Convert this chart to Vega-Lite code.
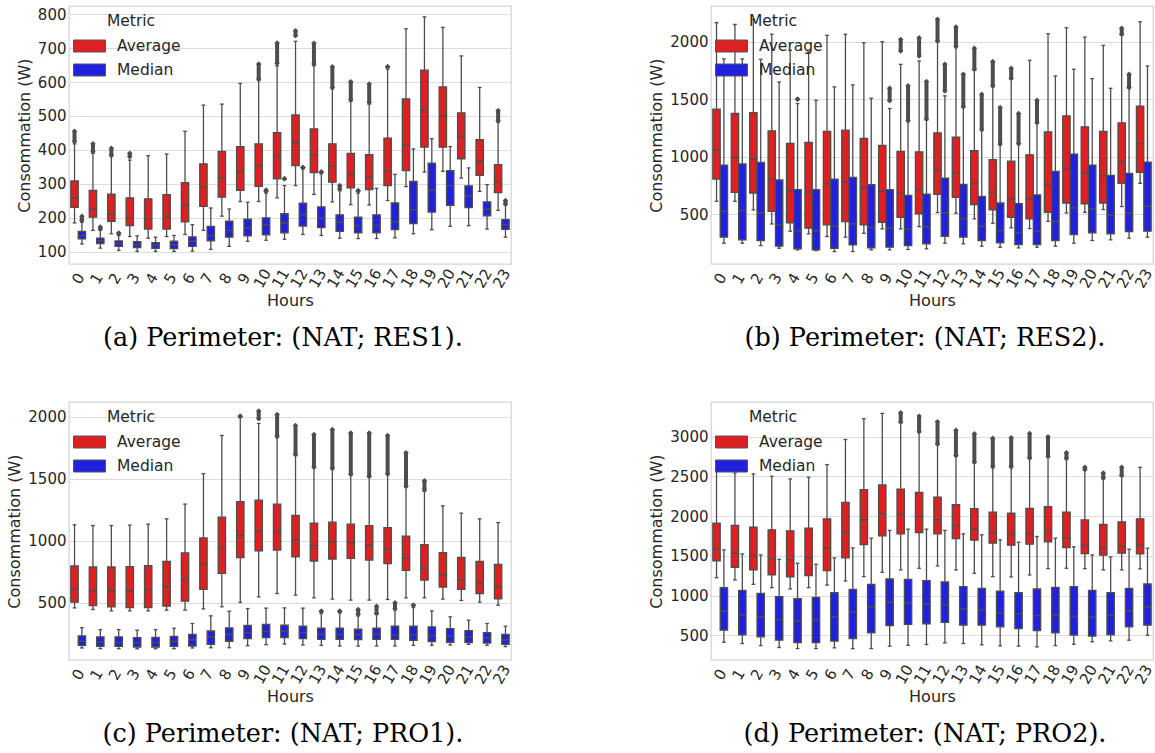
{
"$schema": "https://vega.github.io/schema/vega-lite/v6.json",
"background": "white",
"padding": {"left": 6, "top": 5, "right": 0, "bottom": 0},
"columns": 2,
"spacing": {"row": 48, "column": 134},
"resolve": {"scale": {"color": "independent"}, "legend": {"color": "independent"}},
"config": {
  "font": "DejaVu Sans",
  "axis": {"labelFont": "DejaVu Sans", "titleFont": "DejaVu Sans", "labelColor": "#262626", "titleColor": "#262626", "titleFontWeight": "normal", "labelFontSize": 15, "titleFontSize": 16, "ticks": false, "domain": false, "gridColor": "#dcdcdc", "gridWidth": 1.2, "labelOverlap": false},
  "axisX": {"grid": false, "labelAngle": -60, "labelAlign": "center", "labelBaseline": "middle", "labelPadding": 14, "titlePadding": 2},
  "axisY": {"grid": true, "labelPadding": 3, "titlePadding": 5, "format": "d", "labelOverlap": false, "labelBound": false, "labelFlush": false, "labelSeparation": -30},
  "view": {"stroke": "#d6d6d6", "strokeWidth": 1.3},
  "title": {"font": "DejaVu Serif", "fontSize": 25.5, "fontWeight": "normal", "color": "#000000", "orient": "bottom", "anchor": "middle", "frame": "group", "offset": 18, "dx": -7},
  "legend": {"title": "Metric", "orient": "none", "legendX": 12, "legendY": 8, "symbolType": "M-2,-0.75H2V0.75H-2Z", "symbolSize": 256, "symbolStrokeColor": "#555555", "symbolStrokeWidth": 1, "symbolOpacity": 1, "labelOffset": 19, "labelFontSize": 15.5, "titleFontSize": 15.5, "titleFontWeight": "normal", "titleAnchor": "middle", "rowPadding": 7, "titlePadding": 8, "labelColor": "#262626", "titleColor": "#262626"}
},
"datasets": {
"a": [
{"h":0,"m":"Average","lo":185,"q1":231,"md":259,"q3":309,"hi":418,"ol":425,"oh":455},
{"h":0,"m":"Median","lo":123,"q1":138,"md":148,"q3":160,"hi":187,"ol":192,"oh":205},
{"h":1,"m":"Average","lo":163,"q1":202,"md":227,"q3":281,"hi":390,"ol":395,"oh":418},
{"h":1,"m":"Median","lo":111,"q1":124,"md":132,"q3":140,"hi":163,"ol":167,"oh":173},
{"h":2,"m":"Average","lo":153,"q1":190,"md":212,"q3":270,"hi":380,"ol":385,"oh":405},
{"h":2,"m":"Median","lo":104,"q1":116,"md":124,"q3":132,"hi":148,"ol":153,"oh":155},
{"h":3,"m":"Average","lo":145,"q1":177,"md":201,"q3":259,"hi":370,"ol":380,"oh":390},
{"h":3,"m":"Median","lo":101,"q1":112,"md":121,"q3":130,"hi":147},
{"h":4,"m":"Average","lo":140,"q1":167,"md":196,"q3":256,"hi":383},
{"h":4,"m":"Median","lo":101,"q1":110,"md":119,"q3":127,"hi":143},
{"h":5,"m":"Average","lo":145,"q1":167,"md":202,"q3":268,"hi":388},
{"h":5,"m":"Median","lo":101,"q1":109,"md":121,"q3":131,"hi":148},
{"h":6,"m":"Average","lo":151,"q1":188,"md":236,"q3":304,"hi":455},
{"h":6,"m":"Median","lo":102,"q1":116,"md":131,"q3":144,"hi":180},
{"h":7,"m":"Average","lo":163,"q1":234,"md":290,"q3":359,"hi":532},
{"h":7,"m":"Median","lo":107,"q1":132,"md":148,"q3":175,"hi":229},
{"h":8,"m":"Average","lo":205,"q1":261,"md":318,"q3":396,"hi":535},
{"h":8,"m":"Median","lo":116,"q1":143,"md":163,"q3":190,"hi":226},
{"h":9,"m":"Average","lo":248,"q1":281,"md":337,"q3":410,"hi":596},
{"h":9,"m":"Median","lo":131,"q1":147,"md":171,"q3":196,"hi":246},
{"h":10,"m":"Average","lo":248,"q1":293,"md":354,"q3":418,"hi":604,"ol":609,"oh":653},
{"h":10,"m":"Median","lo":134,"q1":150,"md":180,"q3":200,"hi":273,"ol":278,"oh":282},
{"h":11,"m":"Average","lo":259,"q1":315,"md":381,"q3":451,"hi":648,"ol":655,"oh":715},
{"h":11,"m":"Median","lo":137,"q1":156,"md":185,"q3":212,"hi":295,"ol":315,"oh":315},
{"h":12,"m":"Average","lo":295,"q1":354,"md":420,"q3":503,"hi":720,"ol":736,"oh":751},
{"h":12,"m":"Median","lo":151,"q1":176,"md":210,"q3":243,"hi":344,"ol":348,"oh":348},
{"h":13,"m":"Average","lo":269,"q1":333,"md":386,"q3":462,"hi":648,"ol":653,"oh":714},
{"h":13,"m":"Median","lo":148,"q1":171,"md":200,"q3":232,"hi":330,"ol":335,"oh":335},
{"h":14,"m":"Average","lo":247,"q1":305,"md":352,"q3":418,"hi":580,"ol":584,"oh":645},
{"h":14,"m":"Median","lo":140,"q1":160,"md":187,"q3":209,"hi":280,"ol":285,"oh":295},
{"h":15,"m":"Average","lo":239,"q1":288,"md":328,"q3":390,"hi":543,"ol":548,"oh":601},
{"h":15,"m":"Median","lo":139,"q1":156,"md":177,"q3":202,"hi":273,"ol":280,"oh":280},
{"h":16,"m":"Average","lo":238,"q1":283,"md":320,"q3":386,"hi":535,"ol":540,"oh":594},
{"h":16,"m":"Median","lo":139,"q1":156,"md":177,"q3":209,"hi":287},
{"h":17,"m":"Average","lo":251,"q1":295,"md":337,"q3":435,"hi":638,"ol":645,"oh":645},
{"h":17,"m":"Median","lo":141,"q1":165,"md":188,"q3":244,"hi":328},
{"h":18,"m":"Average","lo":292,"q1":339,"md":416,"q3":550,"hi":757},
{"h":18,"m":"Median","lo":153,"q1":183,"md":224,"q3":307,"hi":403},
{"h":19,"m":"Average","lo":335,"q1":408,"md":518,"q3":635,"hi":792},
{"h":19,"m":"Median","lo":165,"q1":217,"md":281,"q3":361,"hi":433},
{"h":20,"m":"Average","lo":337,"q1":408,"md":501,"q3":586,"hi":761},
{"h":20,"m":"Median","lo":175,"q1":237,"md":295,"q3":339,"hi":410},
{"h":21,"m":"Average","lo":317,"q1":374,"md":439,"q3":509,"hi":677},
{"h":21,"m":"Median","lo":177,"q1":230,"md":264,"q3":294,"hi":347},
{"h":22,"m":"Average","lo":278,"q1":325,"md":367,"q3":430,"hi":584},
{"h":22,"m":"Median","lo":167,"q1":206,"md":225,"q3":247,"hi":298},
{"h":23,"m":"Average","lo":222,"q1":274,"md":305,"q3":357,"hi":481,"ol":486,"oh":516},
{"h":23,"m":"Median","lo":143,"q1":166,"md":180,"q3":195,"hi":237,"ol":241,"oh":251}
],
"b": [
{"h":0,"m":"Average","lo":613,"q1":806,"md":1061,"q3":1413,"hi":2165},
{"h":0,"m":"Median","lo":249,"q1":301,"md":526,"q3":928,"hi":1850},
{"h":1,"m":"Average","lo":613,"q1":691,"md":1000,"q3":1376,"hi":2150},
{"h":1,"m":"Median","lo":249,"q1":278,"md":532,"q3":937,"hi":1850},
{"h":2,"m":"Average","lo":538,"q1":685,"md":980,"q3":1384,"hi":2194},
{"h":2,"m":"Median","lo":228,"q1":272,"md":512,"q3":951,"hi":1847},
{"h":3,"m":"Average","lo":416,"q1":526,"md":806,"q3":1225,"hi":2064},
{"h":3,"m":"Median","lo":205,"q1":223,"md":408,"q3":798,"hi":1650},
{"h":4,"m":"Average","lo":353,"q1":425,"md":705,"q3":1116,"hi":1925},
{"h":4,"m":"Median","lo":191,"q1":200,"md":358,"q3":714,"hi":1462,"ol":1500,"oh":1500},
{"h":5,"m":"Average","lo":330,"q1":379,"md":691,"q3":1124,"hi":1910},
{"h":5,"m":"Median","lo":185,"q1":192,"md":358,"q3":714,"hi":1491},
{"h":6,"m":"Average","lo":307,"q1":408,"md":763,"q3":1220,"hi":2055},
{"h":6,"m":"Median","lo":176,"q1":205,"md":396,"q3":806,"hi":1607},
{"h":7,"m":"Average","lo":301,"q1":437,"md":783,"q3":1231,"hi":2064},
{"h":7,"m":"Median","lo":176,"q1":234,"md":416,"q3":821,"hi":1624},
{"h":8,"m":"Average","lo":335,"q1":408,"md":728,"q3":1159,"hi":1991},
{"h":8,"m":"Median","lo":191,"q1":208,"md":387,"q3":757,"hi":1509},
{"h":9,"m":"Average","lo":373,"q1":431,"md":702,"q3":1098,"hi":2000},
{"h":9,"m":"Median","lo":191,"q1":214,"md":379,"q3":714,"hi":1419,"ol":1486,"oh":1595},
{"h":10,"m":"Average","lo":373,"q1":474,"md":691,"q3":1046,"hi":1803,"ol":1919,"oh":2020},
{"h":10,"m":"Median","lo":194,"q1":228,"md":373,"q3":665,"hi":1306,"ol":1312,"oh":1616},
{"h":11,"m":"Average","lo":393,"q1":503,"md":714,"q3":1043,"hi":1832,"ol":1876,"oh":2035},
{"h":11,"m":"Median","lo":200,"q1":243,"md":393,"q3":676,"hi":1318,"ol":1327,"oh":1653},
{"h":12,"m":"Average","lo":515,"q1":673,"md":884,"q3":1208,"hi":2000,"ol":2006,"oh":2194},
{"h":12,"m":"Median","lo":249,"q1":309,"md":512,"q3":815,"hi":1529,"ol":1572,"oh":1803},
{"h":13,"m":"Average","lo":509,"q1":647,"md":858,"q3":1171,"hi":1948,"ol":1962,"oh":2127},
{"h":13,"m":"Median","lo":243,"q1":301,"md":460,"q3":760,"hi":1428,"ol":1434,"oh":1717},
{"h":14,"m":"Average","lo":460,"q1":584,"md":766,"q3":1052,"hi":1751,"ol":1760,"oh":1942},
{"h":14,"m":"Median","lo":223,"q1":272,"md":396,"q3":656,"hi":1225,"ol":1240,"oh":1543},
{"h":15,"m":"Average","lo":422,"q1":538,"md":691,"q3":974,"hi":1607,"ol":1616,"oh":1827},
{"h":15,"m":"Median","lo":214,"q1":252,"md":358,"q3":598,"hi":1104,"ol":1110,"oh":1428},
{"h":16,"m":"Average","lo":382,"q1":474,"md":630,"q3":962,"hi":1673,"ol":1682,"oh":1769},
{"h":16,"m":"Median","lo":208,"q1":237,"md":338,"q3":593,"hi":1104,"ol":1116,"oh":1376},
{"h":17,"m":"Average","lo":376,"q1":460,"md":630,"q3":1017,"hi":1838},
{"h":17,"m":"Median","lo":214,"q1":237,"md":353,"q3":668,"hi":1289,"ol":1298,"oh":1491},
{"h":18,"m":"Average","lo":439,"q1":517,"md":757,"q3":1217,"hi":2069},
{"h":18,"m":"Median","lo":223,"q1":272,"md":437,"q3":873,"hi":1702},
{"h":19,"m":"Average","lo":512,"q1":598,"md":893,"q3":1356,"hi":2121},
{"h":19,"m":"Median","lo":249,"q1":324,"md":555,"q3":1023,"hi":1760},
{"h":20,"m":"Average","lo":517,"q1":590,"md":858,"q3":1260,"hi":2040},
{"h":20,"m":"Median","lo":272,"q1":338,"md":546,"q3":928,"hi":1679},
{"h":21,"m":"Average","lo":541,"q1":598,"md":835,"q3":1220,"hi":1968},
{"h":21,"m":"Median","lo":278,"q1":330,"md":494,"q3":838,"hi":1595},
{"h":22,"m":"Average","lo":567,"q1":769,"md":954,"q3":1295,"hi":2058,"ol":2064,"oh":2116},
{"h":22,"m":"Median","lo":292,"q1":350,"md":512,"q3":856,"hi":1595,"ol":1601,"oh":1717},
{"h":23,"m":"Average","lo":769,"q1":864,"md":1113,"q3":1439,"hi":2173},
{"h":23,"m":"Median","lo":301,"q1":353,"md":569,"q3":954,"hi":1789}
],
"c": [
{"h":0,"m":"Average","lo":459,"q1":505,"md":611,"q3":797,"hi":1129},
{"h":0,"m":"Median","lo":136,"q1":157,"md":190,"q3":233,"hi":300},
{"h":1,"m":"Average","lo":446,"q1":478,"md":594,"q3":789,"hi":1123},
{"h":1,"m":"Median","lo":130,"q1":149,"md":184,"q3":225,"hi":284},
{"h":2,"m":"Average","lo":435,"q1":468,"md":594,"q3":789,"hi":1123},
{"h":2,"m":"Median","lo":130,"q1":149,"md":179,"q3":225,"hi":284},
{"h":3,"m":"Average","lo":435,"q1":462,"md":594,"q3":791,"hi":1126},
{"h":3,"m":"Median","lo":130,"q1":144,"md":176,"q3":219,"hi":279},
{"h":4,"m":"Average","lo":435,"q1":462,"md":608,"q3":799,"hi":1134},
{"h":4,"m":"Median","lo":130,"q1":144,"md":179,"q3":222,"hi":284},
{"h":5,"m":"Average","lo":441,"q1":473,"md":629,"q3":834,"hi":1177},
{"h":5,"m":"Median","lo":130,"q1":149,"md":190,"q3":230,"hi":295},
{"h":6,"m":"Average","lo":441,"q1":513,"md":691,"q3":902,"hi":1296},
{"h":6,"m":"Median","lo":136,"q1":152,"md":203,"q3":246,"hi":333},
{"h":7,"m":"Average","lo":451,"q1":608,"md":810,"q3":1023,"hi":1541},
{"h":7,"m":"Median","lo":138,"q1":165,"md":225,"q3":273,"hi":395},
{"h":8,"m":"Average","lo":468,"q1":737,"md":940,"q3":1191,"hi":1849},
{"h":8,"m":"Median","lo":138,"q1":190,"md":244,"q3":298,"hi":432},
{"h":9,"m":"Average","lo":503,"q1":864,"md":1045,"q3":1315,"hi":1992,"ol":2005,"oh":2005},
{"h":9,"m":"Median","lo":155,"q1":211,"md":260,"q3":317,"hi":454},
{"h":10,"m":"Average","lo":548,"q1":918,"md":1080,"q3":1328,"hi":1946,"ol":1984,"oh":2046},
{"h":10,"m":"Median","lo":163,"q1":219,"md":268,"q3":327,"hi":457},
{"h":11,"m":"Average","lo":575,"q1":926,"md":1075,"q3":1296,"hi":1830,"ol":1844,"oh":2019},
{"h":11,"m":"Median","lo":168,"q1":219,"md":273,"q3":319,"hi":459},
{"h":12,"m":"Average","lo":562,"q1":870,"md":1007,"q3":1204,"hi":1687,"ol":1695,"oh":1930},
{"h":12,"m":"Median","lo":160,"q1":211,"md":260,"q3":311,"hi":457},
{"h":13,"m":"Average","lo":540,"q1":837,"md":961,"q3":1142,"hi":1587,"ol":1595,"oh":1857},
{"h":13,"m":"Median","lo":157,"q1":206,"md":249,"q3":295,"hi":414,"ol":432,"oh":432},
{"h":14,"m":"Average","lo":530,"q1":853,"md":991,"q3":1150,"hi":1574,"ol":1587,"oh":1897},
{"h":14,"m":"Median","lo":152,"q1":206,"md":244,"q3":295,"hi":419,"ol":432,"oh":432},
{"h":15,"m":"Average","lo":522,"q1":859,"md":986,"q3":1134,"hi":1528,"ol":1539,"oh":1870},
{"h":15,"m":"Median","lo":152,"q1":203,"md":244,"q3":287,"hi":395,"ol":408,"oh":446},
{"h":16,"m":"Average","lo":522,"q1":845,"md":967,"q3":1123,"hi":1512,"ol":1520,"oh":1870},
{"h":16,"m":"Median","lo":152,"q1":206,"md":246,"q3":295,"hi":408,"ol":414,"oh":473},
{"h":17,"m":"Average","lo":527,"q1":816,"md":934,"q3":1107,"hi":1531,"ol":1541,"oh":1849},
{"h":17,"m":"Median","lo":152,"q1":206,"md":238,"q3":311,"hi":441,"ol":454,"oh":500},
{"h":18,"m":"Average","lo":540,"q1":762,"md":859,"q3":1037,"hi":1433,"ol":1439,"oh":1709},
{"h":18,"m":"Median","lo":157,"q1":198,"md":241,"q3":311,"hi":462,"ol":481,"oh":481},
{"h":19,"m":"Average","lo":540,"q1":683,"md":778,"q3":969,"hi":1398,"ol":1412,"oh":1485},
{"h":19,"m":"Median","lo":157,"q1":187,"md":236,"q3":306,"hi":435},
{"h":20,"m":"Average","lo":530,"q1":627,"md":724,"q3":905,"hi":1282},
{"h":20,"m":"Median","lo":160,"q1":182,"md":230,"q3":292,"hi":387},
{"h":21,"m":"Average","lo":519,"q1":608,"md":683,"q3":867,"hi":1223},
{"h":21,"m":"Median","lo":165,"q1":179,"md":225,"q3":276,"hi":360},
{"h":22,"m":"Average","lo":505,"q1":575,"md":656,"q3":834,"hi":1177},
{"h":22,"m":"Median","lo":157,"q1":176,"md":219,"q3":260,"hi":333},
{"h":23,"m":"Average","lo":481,"q1":532,"md":629,"q3":810,"hi":1147},
{"h":23,"m":"Median","lo":147,"q1":165,"md":203,"q3":246,"hi":311}
],
"d": [
{"h":0,"m":"Average","lo":1225,"q1":1436,"md":1583,"q3":1912,"hi":2595},
{"h":0,"m":"Median","lo":411,"q1":563,"md":803,"q3":1099,"hi":1575},
{"h":1,"m":"Average","lo":1196,"q1":1356,"md":1533,"q3":1883,"hi":2545},
{"h":1,"m":"Median","lo":395,"q1":504,"md":753,"q3":1065,"hi":1524},
{"h":2,"m":"Average","lo":1141,"q1":1322,"md":1503,"q3":1862,"hi":2532},
{"h":2,"m":"Median","lo":369,"q1":479,"md":732,"q3":1027,"hi":1512},
{"h":3,"m":"Average","lo":1099,"q1":1259,"md":1461,"q3":1828,"hi":2503},
{"h":3,"m":"Median","lo":344,"q1":437,"md":698,"q3":985,"hi":1457},
{"h":4,"m":"Average","lo":1082,"q1":1234,"md":1449,"q3":1815,"hi":2469},
{"h":4,"m":"Median","lo":331,"q1":407,"md":677,"q3":959,"hi":1406},
{"h":5,"m":"Average","lo":1099,"q1":1250,"md":1478,"q3":1849,"hi":2490},
{"h":5,"m":"Median","lo":331,"q1":407,"md":690,"q3":976,"hi":1394},
{"h":6,"m":"Average","lo":1132,"q1":1314,"md":1596,"q3":1967,"hi":2650},
{"h":6,"m":"Median","lo":340,"q1":424,"md":732,"q3":1035,"hi":1474},
{"h":7,"m":"Average","lo":1183,"q1":1474,"md":1794,"q3":2174,"hi":2966},
{"h":7,"m":"Median","lo":331,"q1":458,"md":795,"q3":1078,"hi":1600},
{"h":8,"m":"Average","lo":1238,"q1":1642,"md":1954,"q3":2334,"hi":3228},
{"h":8,"m":"Median","lo":331,"q1":530,"md":858,"q3":1141,"hi":1723},
{"h":9,"m":"Average","lo":1293,"q1":1752,"md":2030,"q3":2393,"hi":3295},
{"h":9,"m":"Median","lo":361,"q1":622,"md":913,"q3":1208,"hi":1820},
{"h":10,"m":"Average","lo":1322,"q1":1777,"md":2026,"q3":2342,"hi":3177,"ol":3186,"oh":3304},
{"h":10,"m":"Median","lo":373,"q1":635,"md":909,"q3":1204,"hi":1836},
{"h":11,"m":"Average","lo":1343,"q1":1794,"md":1997,"q3":2300,"hi":3059,"ol":3065,"oh":3261},
{"h":11,"m":"Median","lo":382,"q1":643,"md":892,"q3":1187,"hi":1836},
{"h":12,"m":"Average","lo":1373,"q1":1777,"md":1954,"q3":2241,"hi":2903,"ol":2911,"oh":3190},
{"h":12,"m":"Median","lo":403,"q1":660,"md":884,"q3":1170,"hi":1820},
{"h":13,"m":"Average","lo":1322,"q1":1718,"md":1883,"q3":2144,"hi":2755,"ol":2764,"oh":3084},
{"h":13,"m":"Median","lo":395,"q1":626,"md":833,"q3":1111,"hi":1777},
{"h":14,"m":"Average","lo":1280,"q1":1697,"md":1841,"q3":2094,"hi":2671,"ol":2684,"oh":3038},
{"h":14,"m":"Median","lo":378,"q1":626,"md":816,"q3":1090,"hi":1765},
{"h":15,"m":"Average","lo":1238,"q1":1659,"md":1794,"q3":2051,"hi":2608,"ol":2629,"oh":2983},
{"h":15,"m":"Median","lo":365,"q1":605,"md":778,"q3":1056,"hi":1701},
{"h":16,"m":"Average","lo":1234,"q1":1634,"md":1769,"q3":2039,"hi":2608,"ol":2629,"oh":2987},
{"h":16,"m":"Median","lo":361,"q1":584,"md":766,"q3":1035,"hi":1672},
{"h":17,"m":"Average","lo":1259,"q1":1647,"md":1777,"q3":2098,"hi":2726,"ol":2734,"oh":3042},
{"h":17,"m":"Median","lo":352,"q1":559,"md":745,"q3":1082,"hi":1744},
{"h":18,"m":"Average","lo":1339,"q1":1676,"md":1807,"q3":2119,"hi":2747,"ol":2755,"oh":3000},
{"h":18,"m":"Median","lo":369,"q1":530,"md":753,"q3":1103,"hi":1723},
{"h":19,"m":"Average","lo":1343,"q1":1605,"md":1723,"q3":2051,"hi":2713,"ol":2734,"oh":2798},
{"h":19,"m":"Median","lo":386,"q1":500,"md":740,"q3":1111,"hi":1613},
{"h":20,"m":"Average","lo":1339,"q1":1529,"md":1630,"q3":1954,"hi":2578,"ol":2587,"oh":2616},
{"h":20,"m":"Median","lo":416,"q1":487,"md":728,"q3":1065,"hi":1512},
{"h":21,"m":"Average","lo":1322,"q1":1508,"md":1596,"q3":1895,"hi":2469,"ol":2481,"oh":2545},
{"h":21,"m":"Median","lo":428,"q1":504,"md":749,"q3":1035,"hi":1486},
{"h":22,"m":"Average","lo":1322,"q1":1533,"md":1617,"q3":1929,"hi":2503,"ol":2511,"oh":2616},
{"h":22,"m":"Median","lo":437,"q1":605,"md":808,"q3":1090,"hi":1583},
{"h":23,"m":"Average","lo":1335,"q1":1524,"md":1634,"q3":1967,"hi":2616},
{"h":23,"m":"Median","lo":500,"q1":626,"md":858,"q3":1145,"hi":1596}
]
},
"concat": [
{
 "width": 442, "height": 258,
 "data": {"name": "a"},
 "title": {"text": "(a) Perimeter: (NAT; RES1)."},
 "encoding": {
  "x": {"field": "h", "type": "ordinal", "title": "Hours", "scale": {"paddingInner": 0, "paddingOuter": 0}},
  "xOffset": {"field": "m", "type": "nominal", "scale": {"paddingInner": 0, "paddingOuter": 0.25}}
 },
 "layer": [
  {"mark": {"type": "rule", "color": "#4d4d4d", "strokeWidth": 1.3}, "encoding": {"y": {"field": "lo", "type": "quantitative", "title": "Consommation (W)", "scale": {"domain": [64, 824], "nice": false, "zero": false}, "axis": {"values": [100,200,300,400,500,600,700,800], "labelOverlap": false, "labelSeparation": -30, "tickCount": 8}}, "y2": {"field": "hi"}}},
  {"mark": {"type": "tick", "color": "#4d4d4d", "size": 3.7, "thickness": 1.3, "opacity": 1}, "encoding": {"y": {"field": "lo", "type": "quantitative"}}},
  {"mark": {"type": "tick", "color": "#4d4d4d", "size": 3.7, "thickness": 1.3, "opacity": 1}, "encoding": {"y": {"field": "hi", "type": "quantitative"}}},
  {"mark": {"type": "bar", "stroke": "#4d4d4d", "strokeWidth": 1.3, "opacity": 1}, "encoding": {"y": {"field": "q1", "type": "quantitative"}, "y2": {"field": "q3"}, "color": {"field": "m", "type": "nominal", "scale": {"domain": ["Average", "Median"], "range": ["#df2020", "#2020df"]}, "legend": {"title": "Metric"}}}},
  {"mark": {"type": "tick", "color": "#4d4d4d", "size": 7.2, "thickness": 1.5, "opacity": 1}, "encoding": {"y": {"field": "md", "type": "quantitative"}}},
  {"transform": [{"filter": "isValid(datum.ol)"}], "mark": {"type": "rule", "color": "#4d4d4d", "strokeWidth": 4}, "encoding": {"y": {"field": "ol", "type": "quantitative"}, "y2": {"field": "oh"}}},
  {"transform": [{"filter": "isValid(datum.ol)"}], "mark": {"type": "point", "shape": "diamond", "filled": true, "size": 30, "color": "#4d4d4d", "opacity": 1}, "encoding": {"y": {"field": "oh", "type": "quantitative"}}},
  {"transform": [{"filter": "isValid(datum.ol)"}], "mark": {"type": "point", "shape": "diamond", "filled": true, "size": 30, "color": "#4d4d4d", "opacity": 1}, "encoding": {"y": {"field": "ol", "type": "quantitative"}}}
 ]
},
{
 "width": 442, "height": 258,
 "data": {"name": "b"},
 "title": {"text": "(b) Perimeter: (NAT; RES2)."},
 "encoding": {
  "x": {"field": "h", "type": "ordinal", "title": "Hours", "scale": {"paddingInner": 0, "paddingOuter": 0}},
  "xOffset": {"field": "m", "type": "nominal", "scale": {"paddingInner": 0, "paddingOuter": 0.25}}
 },
 "layer": [
  {"mark": {"type": "rule", "color": "#4d4d4d", "strokeWidth": 1.3}, "encoding": {"y": {"field": "lo", "type": "quantitative", "title": "Consommation (W)", "scale": {"domain": [68, 2310], "nice": false, "zero": false}, "axis": {"values": [500,1000,1500,2000], "labelOverlap": false}}, "y2": {"field": "hi"}}},
  {"mark": {"type": "tick", "color": "#4d4d4d", "size": 3.7, "thickness": 1.3, "opacity": 1}, "encoding": {"y": {"field": "lo", "type": "quantitative"}}},
  {"mark": {"type": "tick", "color": "#4d4d4d", "size": 3.7, "thickness": 1.3, "opacity": 1}, "encoding": {"y": {"field": "hi", "type": "quantitative"}}},
  {"mark": {"type": "bar", "stroke": "#4d4d4d", "strokeWidth": 1.3, "opacity": 1}, "encoding": {"y": {"field": "q1", "type": "quantitative"}, "y2": {"field": "q3"}, "color": {"field": "m", "type": "nominal", "scale": {"domain": ["Average", "Median"], "range": ["#df2020", "#2020df"]}, "legend": {"title": "Metric"}}}},
  {"mark": {"type": "tick", "color": "#4d4d4d", "size": 7.2, "thickness": 1.5, "opacity": 1}, "encoding": {"y": {"field": "md", "type": "quantitative"}}},
  {"transform": [{"filter": "isValid(datum.ol)"}], "mark": {"type": "rule", "color": "#4d4d4d", "strokeWidth": 4}, "encoding": {"y": {"field": "ol", "type": "quantitative"}, "y2": {"field": "oh"}}},
  {"transform": [{"filter": "isValid(datum.ol)"}], "mark": {"type": "point", "shape": "diamond", "filled": true, "size": 30, "color": "#4d4d4d", "opacity": 1}, "encoding": {"y": {"field": "oh", "type": "quantitative"}}},
  {"transform": [{"filter": "isValid(datum.ol)"}], "mark": {"type": "point", "shape": "diamond", "filled": true, "size": 30, "color": "#4d4d4d", "opacity": 1}, "encoding": {"y": {"field": "ol", "type": "quantitative"}}}
 ]
},
{
 "width": 442, "height": 258,
 "data": {"name": "c"},
 "title": {"text": "(c) Perimeter: (NAT; PRO1)."},
 "encoding": {
  "x": {"field": "h", "type": "ordinal", "title": "Hours", "scale": {"paddingInner": 0, "paddingOuter": 0}},
  "xOffset": {"field": "m", "type": "nominal", "scale": {"paddingInner": 0, "paddingOuter": 0.25}}
 },
 "layer": [
  {"mark": {"type": "rule", "color": "#4d4d4d", "strokeWidth": 1.3}, "encoding": {"y": {"field": "lo", "type": "quantitative", "title": "Consommation (W)", "scale": {"domain": [39, 2119], "nice": false, "zero": false}, "axis": {"values": [500,1000,1500,2000], "labelOverlap": false}}, "y2": {"field": "hi"}}},
  {"mark": {"type": "tick", "color": "#4d4d4d", "size": 3.7, "thickness": 1.3, "opacity": 1}, "encoding": {"y": {"field": "lo", "type": "quantitative"}}},
  {"mark": {"type": "tick", "color": "#4d4d4d", "size": 3.7, "thickness": 1.3, "opacity": 1}, "encoding": {"y": {"field": "hi", "type": "quantitative"}}},
  {"mark": {"type": "bar", "stroke": "#4d4d4d", "strokeWidth": 1.3, "opacity": 1}, "encoding": {"y": {"field": "q1", "type": "quantitative"}, "y2": {"field": "q3"}, "color": {"field": "m", "type": "nominal", "scale": {"domain": ["Average", "Median"], "range": ["#df2020", "#2020df"]}, "legend": {"title": "Metric"}}}},
  {"mark": {"type": "tick", "color": "#4d4d4d", "size": 7.2, "thickness": 1.5, "opacity": 1}, "encoding": {"y": {"field": "md", "type": "quantitative"}}},
  {"transform": [{"filter": "isValid(datum.ol)"}], "mark": {"type": "rule", "color": "#4d4d4d", "strokeWidth": 4}, "encoding": {"y": {"field": "ol", "type": "quantitative"}, "y2": {"field": "oh"}}},
  {"transform": [{"filter": "isValid(datum.ol)"}], "mark": {"type": "point", "shape": "diamond", "filled": true, "size": 30, "color": "#4d4d4d", "opacity": 1}, "encoding": {"y": {"field": "oh", "type": "quantitative"}}},
  {"transform": [{"filter": "isValid(datum.ol)"}], "mark": {"type": "point", "shape": "diamond", "filled": true, "size": 30, "color": "#4d4d4d", "opacity": 1}, "encoding": {"y": {"field": "ol", "type": "quantitative"}}}
 ]
},
{
 "width": 442, "height": 258,
 "data": {"name": "d"},
 "title": {"text": "(d) Perimeter: (NAT; PRO2)."},
 "encoding": {
  "x": {"field": "h", "type": "ordinal", "title": "Hours", "scale": {"paddingInner": 0, "paddingOuter": 0}},
  "xOffset": {"field": "m", "type": "nominal", "scale": {"paddingInner": 0, "paddingOuter": 0.25}}
 },
 "layer": [
  {"mark": {"type": "rule", "color": "#4d4d4d", "strokeWidth": 1.3}, "encoding": {"y": {"field": "lo", "type": "quantitative", "title": "Consommation (W)", "scale": {"domain": [187, 3439], "nice": false, "zero": false}, "axis": {"values": [500,1000,1500,2000,2500,3000], "labelOverlap": false}}, "y2": {"field": "hi"}}},
  {"mark": {"type": "tick", "color": "#4d4d4d", "size": 3.7, "thickness": 1.3, "opacity": 1}, "encoding": {"y": {"field": "lo", "type": "quantitative"}}},
  {"mark": {"type": "tick", "color": "#4d4d4d", "size": 3.7, "thickness": 1.3, "opacity": 1}, "encoding": {"y": {"field": "hi", "type": "quantitative"}}},
  {"mark": {"type": "bar", "stroke": "#4d4d4d", "strokeWidth": 1.3, "opacity": 1}, "encoding": {"y": {"field": "q1", "type": "quantitative"}, "y2": {"field": "q3"}, "color": {"field": "m", "type": "nominal", "scale": {"domain": ["Average", "Median"], "range": ["#df2020", "#2020df"]}, "legend": {"title": "Metric"}}}},
  {"mark": {"type": "tick", "color": "#4d4d4d", "size": 7.2, "thickness": 1.5, "opacity": 1}, "encoding": {"y": {"field": "md", "type": "quantitative"}}},
  {"transform": [{"filter": "isValid(datum.ol)"}], "mark": {"type": "rule", "color": "#4d4d4d", "strokeWidth": 4}, "encoding": {"y": {"field": "ol", "type": "quantitative"}, "y2": {"field": "oh"}}},
  {"transform": [{"filter": "isValid(datum.ol)"}], "mark": {"type": "point", "shape": "diamond", "filled": true, "size": 30, "color": "#4d4d4d", "opacity": 1}, "encoding": {"y": {"field": "oh", "type": "quantitative"}}},
  {"transform": [{"filter": "isValid(datum.ol)"}], "mark": {"type": "point", "shape": "diamond", "filled": true, "size": 30, "color": "#4d4d4d", "opacity": 1}, "encoding": {"y": {"field": "ol", "type": "quantitative"}}}
 ]
}
]
}
